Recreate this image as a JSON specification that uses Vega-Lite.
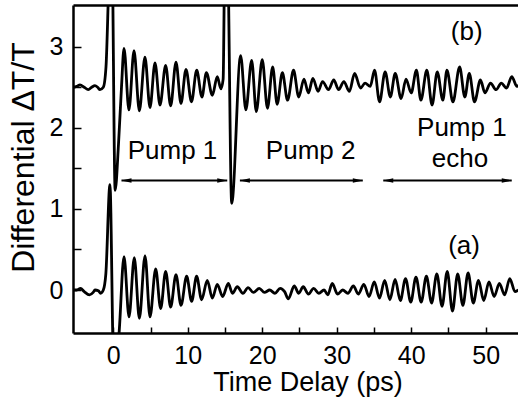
{
  "$schema": "https://vega.github.io/schema/vega-lite/v6.json",
  "width": 445,
  "height": 328,
  "autosize": "none",
  "padding": {"left": 73, "top": 5, "right": 0, "bottom": 68},
  "background": "white",
  "config": {"view": {"stroke": null}, "font": "Liberation Sans"},
  "datasets": {
    "traces": [
      {"series":"b","t":-5.4,"v":2.50},{"series":"b","t":-4.9,"v":2.51},{"series":"b","t":-4.47,"v":2.53},{"series":"b","t":-3.9,"v":2.50},{"series":"b","t":-3.36,"v":2.47},{"series":"b","t":-2.9,"v":2.50},{"series":"b","t":-2.46,"v":2.52},{"series":"b","t":-2.1,"v":2.50},{"series":"b","t":-1.79,"v":2.47},{"series":"b","t":-1.34,"v":2.50},{"series":"b","t":-0.98,"v":2.75},{"series":"b","t":-0.67,"v":3.6},{"series":"b","t":-0.45,"v":4.3},{"series":"b","t":-0.2,"v":4.3},{"series":"b","t":0.25,"v":1.23},{"series":"b","t":0.7,"v":1.8},{"series":"b","t":1.1,"v":2.5},{"series":"b","t":1.44,"v":2.98},{"series":"b","t":2.1,"v":2.22},{"series":"b","t":2.78,"v":2.95},{"series":"b","t":3.5,"v":2.21},{"series":"b","t":4.25,"v":2.87},{"series":"b","t":4.93,"v":2.25},{"series":"b","t":5.6,"v":2.80},{"series":"b","t":6.27,"v":2.28},{"series":"b","t":7.03,"v":2.77},{"series":"b","t":7.7,"v":2.27},{"series":"b","t":8.42,"v":2.81},{"series":"b","t":9.09,"v":2.30},{"series":"b","t":9.76,"v":2.72},{"series":"b","t":10.5,"v":2.32},{"series":"b","t":11.2,"v":2.71},{"series":"b","t":11.9,"v":2.38},{"series":"b","t":12.5,"v":2.68},{"series":"b","t":13.3,"v":2.40},{"series":"b","t":13.96,"v":2.63},{"series":"b","t":14.45,"v":2.48},{"series":"b","t":14.75,"v":2.6},{"series":"b","t":15.0,"v":4.3},{"series":"b","t":15.3,"v":4.3},{"series":"b","t":15.9,"v":1.07},{"series":"b","t":17.1,"v":2.89},{"series":"b","t":17.8,"v":2.22},{"series":"b","t":18.58,"v":2.83},{"series":"b","t":19.2,"v":2.20},{"series":"b","t":20.0,"v":2.84},{"series":"b","t":20.7,"v":2.24},{"series":"b","t":21.4,"v":2.75},{"series":"b","t":22.0,"v":2.29},{"series":"b","t":22.7,"v":2.68},{"series":"b","t":23.4,"v":2.34},{"series":"b","t":24.2,"v":2.71},{"series":"b","t":24.9,"v":2.38},{"series":"b","t":25.6,"v":2.60},{"series":"b","t":26.2,"v":2.43},{"series":"b","t":26.8,"v":2.61},{"series":"b","t":27.5,"v":2.45},{"series":"b","t":28.1,"v":2.57},{"series":"b","t":28.9,"v":2.47},{"series":"b","t":29.6,"v":2.59},{"series":"b","t":30.25,"v":2.47},{"series":"b","t":30.96,"v":2.57},{"series":"b","t":31.7,"v":2.45},{"series":"b","t":32.4,"v":2.67},{"series":"b","t":33.2,"v":2.49},{"series":"b","t":33.8,"v":2.55},{"series":"b","t":34.5,"v":2.51},{"series":"b","t":35.08,"v":2.71},{"series":"b","t":35.75,"v":2.32},{"series":"b","t":36.5,"v":2.69},{"series":"b","t":37.2,"v":2.38},{"series":"b","t":37.85,"v":2.67},{"series":"b","t":38.65,"v":2.36},{"series":"b","t":39.3,"v":2.6},{"series":"b","t":40.0,"v":2.43},{"series":"b","t":40.7,"v":2.71},{"series":"b","t":41.3,"v":2.34},{"series":"b","t":42.1,"v":2.71},{"series":"b","t":42.8,"v":2.28},{"series":"b","t":43.5,"v":2.69},{"series":"b","t":44.25,"v":2.34},{"series":"b","t":44.8,"v":2.71},{"series":"b","t":45.6,"v":2.32},{"series":"b","t":46.5,"v":2.75},{"series":"b","t":47.2,"v":2.38},{"series":"b","t":47.8,"v":2.67},{"series":"b","t":48.5,"v":2.32},{"series":"b","t":49.3,"v":2.59},{"series":"b","t":49.9,"v":2.43},{"series":"b","t":50.65,"v":2.55},{"series":"b","t":51.4,"v":2.47},{"series":"b","t":52.1,"v":2.55},{"series":"b","t":52.8,"v":2.49},{"series":"b","t":53.5,"v":2.63},{"series":"b","t":54.2,"v":2.51},{"series":"b","t":54.5,"v":2.53},
      {"series":"a","t":-5.4,"v":0.0},{"series":"a","t":-4.9,"v":0.0},{"series":"a","t":-4.4,"v":0.02},{"series":"a","t":-3.9,"v":-0.02},{"series":"a","t":-3.2,"v":-0.06},{"series":"a","t":-2.7,"v":-0.03},{"series":"a","t":-2.46,"v":0.0},{"series":"a","t":-2.0,"v":-0.01},{"series":"a","t":-1.7,"v":-0.04},{"series":"a","t":-1.34,"v":0.0},{"series":"a","t":-1.0,"v":0.2},{"series":"a","t":-0.45,"v":1.3},{"series":"a","t":0.05,"v":-0.9},{"series":"a","t":0.45,"v":-0.9},{"series":"a","t":0.8,"v":-0.5},{"series":"a","t":1.44,"v":0.41},{"series":"a","t":2.11,"v":-0.33},{"series":"a","t":2.82,"v":0.40},{"series":"a","t":3.5,"v":-0.35},{"series":"a","t":4.26,"v":0.42},{"series":"a","t":4.93,"v":-0.33},{"series":"a","t":5.69,"v":0.26},{"series":"a","t":6.36,"v":-0.23},{"series":"a","t":7.03,"v":0.23},{"series":"a","t":7.7,"v":-0.21},{"series":"a","t":8.42,"v":0.19},{"series":"a","t":9.09,"v":-0.19},{"series":"a","t":9.85,"v":0.17},{"series":"a","t":10.52,"v":-0.14},{"series":"a","t":11.19,"v":0.17},{"series":"a","t":11.86,"v":-0.12},{"series":"a","t":12.62,"v":0.12},{"series":"a","t":13.3,"v":-0.10},{"series":"a","t":13.96,"v":0.07},{"series":"a","t":14.68,"v":-0.08},{"series":"a","t":15.44,"v":0.08},{"series":"a","t":16.0,"v":-0.04},{"series":"a","t":16.65,"v":0.04},{"series":"a","t":17.4,"v":-0.04},{"series":"a","t":18.1,"v":0.03},{"series":"a","t":18.8,"v":-0.03},{"series":"a","t":19.6,"v":0.02},{"series":"a","t":20.3,"v":-0.03},{"series":"a","t":21.0,"v":0.0},{"series":"a","t":21.7,"v":-0.04},{"series":"a","t":22.4,"v":0.02},{"series":"a","t":23.0,"v":-0.02},{"series":"a","t":23.5,"v":-0.11},{"series":"a","t":24.3,"v":0.05},{"series":"a","t":24.9,"v":-0.04},{"series":"a","t":25.5,"v":0.04},{"series":"a","t":26.2,"v":-0.05},{"series":"a","t":26.9,"v":0.02},{"series":"a","t":27.6,"v":-0.04},{"series":"a","t":28.3,"v":0.0},{"series":"a","t":28.8,"v":-0.06},{"series":"a","t":29.4,"v":0.08},{"series":"a","t":30.1,"v":-0.05},{"series":"a","t":30.8,"v":0.0},{"series":"a","t":31.5,"v":-0.04},{"series":"a","t":32.24,"v":0.05},{"series":"a","t":32.9,"v":-0.05},{"series":"a","t":33.64,"v":0.07},{"series":"a","t":34.34,"v":-0.08},{"series":"a","t":35.04,"v":0.10},{"series":"a","t":35.74,"v":-0.10},{"series":"a","t":36.44,"v":0.12},{"series":"a","t":37.14,"v":-0.12},{"series":"a","t":37.84,"v":0.13},{"series":"a","t":38.54,"v":-0.13},{"series":"a","t":39.24,"v":0.14},{"series":"a","t":39.94,"v":-0.15},{"series":"a","t":40.64,"v":0.16},{"series":"a","t":41.34,"v":-0.15},{"series":"a","t":42.04,"v":0.17},{"series":"a","t":42.74,"v":-0.16},{"series":"a","t":43.44,"v":0.2},{"series":"a","t":44.14,"v":-0.2},{"series":"a","t":44.84,"v":0.23},{"series":"a","t":45.54,"v":-0.26},{"series":"a","t":46.24,"v":0.2},{"series":"a","t":46.94,"v":-0.19},{"series":"a","t":47.64,"v":0.21},{"series":"a","t":48.34,"v":-0.16},{"series":"a","t":49.04,"v":0.12},{"series":"a","t":49.74,"v":-0.13},{"series":"a","t":50.44,"v":0.1},{"series":"a","t":51.14,"v":-0.08},{"series":"a","t":51.84,"v":0.08},{"series":"a","t":52.54,"v":-0.06},{"series":"a","t":53.24,"v":0.14},{"series":"a","t":53.94,"v":-0.02},{"series":"a","t":54.4,"v":0.0}
    ],
    "labels": [
      {"label":"(b)","t":47.45,"v":3.08},
      {"label":"(a)","t":47.1,"v":0.45},
      {"label":"Pump 1","t":7.95,"v":1.61},
      {"label":"Pump 2","t":26.5,"v":1.61},
      {"label":"Pump 1","t":46.8,"v":1.90},
      {"label":"echo","t":46.55,"v":1.52}
    ],
    "arrows": [
      {"t1":1.1,"t2":15.3,"v":1.35},
      {"t1":17.0,"t2":33.5,"v":1.35},
      {"t1":36.25,"t2":53.5,"v":1.35}
    ]
  },
  "resolve": {"axis": {"x": "independent", "y": "independent"}},
  "layer": [
    {
      "data": {"name": "traces"},
      "mark": {"type": "line", "interpolate": "monotone", "clip": true, "strokeWidth": 2.8, "color": "black"},
      "encoding": {
        "x": {"field": "t", "type": "quantitative",
              "scale": {"domain": [-5.41, 54.34], "nice": false, "zero": false},
              "axis": {"values": [0,5,10,15,20,25,30,35,40,45,50],
                       "labelExpr": "datum.value % 10 === 0 ? format(datum.value, 'd') : ''",
                       "tickSize": -6,
                       "tickWidth": 1.5, "tickColor": "black",
                       "domainColor": "black", "domainWidth": 2.5,
                       "labelFontSize": 25, "labelColor": "black", "labelPadding": 16,
                       "grid": false,
                       "title": "Time Delay (ps)", "titleFontSize": 27, "titleFontWeight": "normal", "titleColor": "black",
                       "titleX": 234.5, "titleY": 57, "titleBaseline": "alphabetic", "titleAlign": "center"}},
        "y": {"field": "v", "type": "quantitative",
              "scale": {"domain": [-0.53, 3.514], "nice": false, "zero": false},
              "axis": {"values": [0,0.5,1,1.5,2,2.5,3],
                       "labelExpr": "datum.value % 1 === 0 ? format(datum.value, 'd') : ''",
                       "tickSize": -8, "tickWidth": 1.5, "tickColor": "black",
                       "domainColor": "black", "domainWidth": 2.5,
                       "labelFontSize": 25, "labelColor": "black", "labelPadding": 18,
                       "grid": false,
                       "title": "Differential ΔT/T", "titleFontSize": 32, "titleFontWeight": "normal", "titleColor": "black",
                       "titleX": -50, "titleY": 152, "titleBaseline": "middle", "titleAlign": "center", "titleAngle": -90}},
        "detail": {"field": "series"}
      }
    },
    {
      "data": {"name": "arrows"},
      "mark": {"type": "rule", "strokeWidth": 2, "color": "black"},
      "encoding": {
        "x": {"field": "t1", "type": "quantitative",
              "axis": {"orient": "top", "labels": false, "ticks": false, "title": null, "grid": false, "domain": true, "domainColor": "black", "domainWidth": 2.5}},
        "x2": {"field": "t2"},
        "y": {"field": "v", "type": "quantitative", "axis": null}
      }
    },
    {
      "data": {"name": "arrows"},
      "mark": {"type": "point", "shape": "M-1,0L1,-0.45L1,0.45Z", "size": 100, "filled": true, "color": "black", "opacity": 1, "xOffset": 5},
      "encoding": {
        "x": {"field": "t1", "type": "quantitative", "axis": null},
        "y": {"field": "v", "type": "quantitative", "axis": null}
      }
    },
    {
      "data": {"name": "arrows"},
      "mark": {"type": "point", "shape": "M1,0L-1,-0.45L-1,0.45Z", "size": 100, "filled": true, "color": "black", "opacity": 1, "xOffset": -5},
      "encoding": {
        "x": {"field": "t2", "type": "quantitative", "axis": null},
        "y": {"field": "v", "type": "quantitative", "axis": null}
      }
    },
    {
      "data": {"name": "labels"},
      "mark": {"type": "text", "fontSize": 26, "font": "Liberation Sans", "align": "center", "baseline": "alphabetic", "color": "black"},
      "encoding": {
        "x": {"field": "t", "type": "quantitative", "axis": null},
        "y": {"field": "v", "type": "quantitative", "axis": null},
        "text": {"field": "label"}
      }
    }
  ]
}
